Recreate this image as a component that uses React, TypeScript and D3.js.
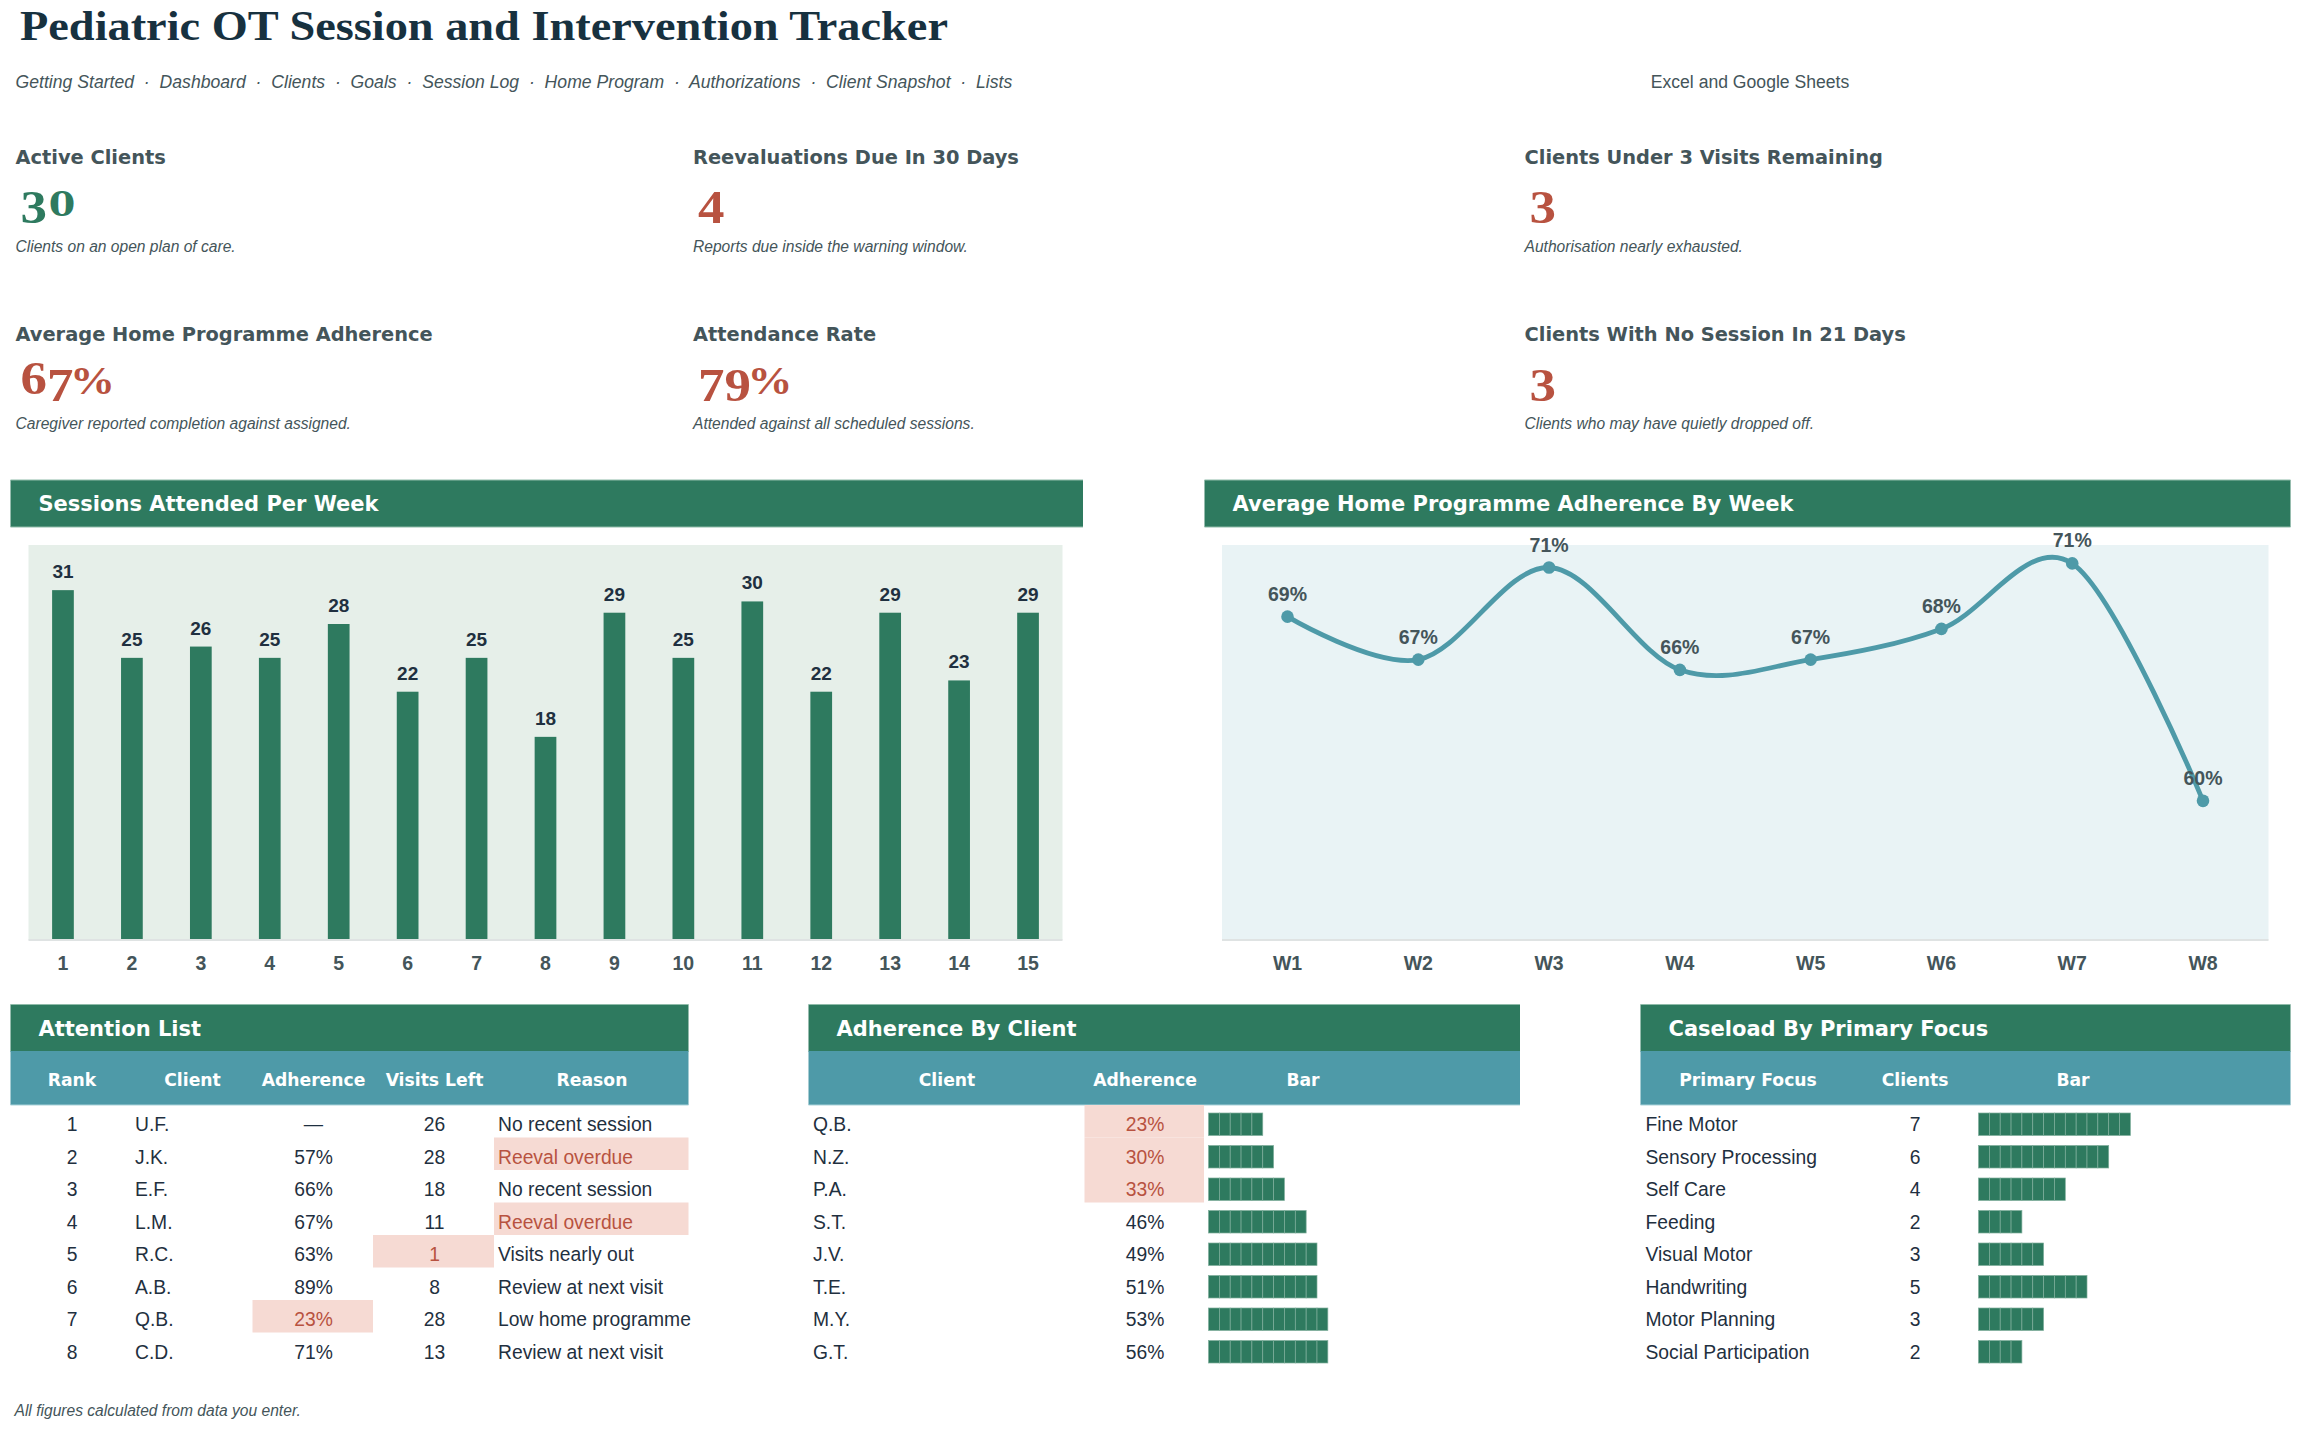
import React from "react";
import * as d3 from "d3";

// colours
const GREEN = "#2e7a5f";
const TEAL = "#4e9aa8";
const RED = "#b85240";
const PINK = "#f6dad3";
const INK = "#1f3040";
const SLATE = "#44555a";
const SANS = "'Liberation Sans', Arial, sans-serif";
const HEAD = "'DejaVu Sans', Verdana, sans-serif";
const SERIF = "'Liberation Serif', Georgia, serif";

// header
const navItems = ["Getting Started", "Dashboard", "Clients", "Goals", "Session Log", "Home Program", "Authorizations", "Client Snapshot", "Lists"];

// kpi cards
const kpiLabels = ["Active Clients", "Reevaluations Due In 30 Days", "Clients Under 3 Visits Remaining", "Average Home Programme Adherence", "Attendance Rate", "Clients With No Session In 21 Days"];
const kpiValues = ["30", "4", "3", "67%", "79%", "3"];
const kpiNotes = ["Clients on an open plan of care.", "Reports due inside the warning window.", "Authorisation nearly exhausted.", "Caregiver reported completion against assigned.", "Attended against all scheduled sessions.", "Clients who may have quietly dropped off."];
const kpiGood = [true, false, false, false, false, false];

// sessions chart
const sessionWeeks = ["1", "2", "3", "4", "5", "6", "7", "8", "9", "10", "11", "12", "13", "14", "15"];
const sessionCounts = [31, 25, 26, 25, 28, 22, 25, 18, 29, 25, 30, 22, 29, 23, 29];

// adherence line chart
const adherenceWeeks = ["W1", "W2", "W3", "W4", "W5", "W6", "W7", "W8"];
const adherenceByWeek = [68.8, 66.7, 71.2, 66.2, 66.7, 68.2, 71.4, 59.8];

// attention list
const attentionClients = ["U.F.", "J.K.", "E.F.", "L.M.", "R.C.", "A.B.", "Q.B.", "C.D."];
const attentionAdherence = [null, 57, 66, 67, 63, 89, 23, 71];
const attentionVisits = [26, 28, 18, 11, 1, 8, 28, 13];
const attentionReasons = ["No recent session", "Reeval overdue", "No recent session", "Reeval overdue", "Visits nearly out", "Review at next visit", "Low home programme", "Review at next visit"];

// adherence by client
const byClientNames = ["Q.B.", "N.Z.", "P.A.", "S.T.", "J.V.", "T.E.", "M.Y.", "G.T."];
const byClientAdherence = [23, 30, 33, 46, 49, 51, 53, 56];

// caseload
const focusNames = ["Fine Motor", "Sensory Processing", "Self Care", "Feeding", "Visual Motor", "Handwriting", "Motor Planning", "Social Participation"];
const focusClients = [7, 6, 4, 2, 3, 5, 3, 2];

const rowIdx = d3.range(8);
const rowY = d3.scaleBand<number>().domain(rowIdx).range([1105, 1365]);
const blockX = d3.scaleLinear().domain([0, 1]).range([0, 10.85]);

// georgia style old figures faked with small shifts, liberation has none
const OldStyle = ({ text, size }: { text: string; size: number }) => {
  let prev = 0;
  return (
    <>
      {text.split("").map((ch, i) => {
        const low = "34579".includes(ch);
        const small = "012".includes(ch);
        const shift = low ? size * 0.155 : 0;
        const dy = shift - prev;
        prev = shift;
        const dx = ch === "%" ? -3 : small && i ? 1.5 : 0;
        return (
          <tspan
            key={i}
            dy={dy}
            dx={dx}
            fontFamily={small ? "'DejaVu Serif', serif" : undefined}
            fontSize={small ? size * 0.72 : ch === "%" ? size * 0.85 : size}
          >
            {ch}
          </tspan>
        );
      })}
    </>
  );
};

const Band = ({ x0, x1, y0, y1, fill, edge }: { x0: number; x1: number; y0: number; y1: number; fill: string; edge: string }) => (
  <g>
    <rect x={x0} y={y0} width={x1 - x0} height={y1 - y0} fill={fill} />
    <line x1={x0} x2={x1} y1={y1} y2={y1} stroke={edge} strokeWidth={1} />
  </g>
);

const SectionTitle = ({ x0, x1, y, title }: { x0: number; x1: number; y: number; title: string }) => (
  <g>
    <Band x0={x0} x1={x1} y0={y} y1={y + 47} fill={GREEN} edge="#8fbba9" />
    <line x1={x0} x2={x1} y1={y} y2={y} stroke="#8fbba9" strokeWidth={1} />
    <text x={x0 + 28} y={y + 31} fill="#fff" fontFamily={HEAD} fontWeight="bold" fontSize={21}>
      {title}
    </text>
  </g>
);

const TableHead = ({ x0, x1, labels, centers }: { x0: number; x1: number; labels: string[]; centers: number[] }) => (
  <g>
    <Band x0={x0} x1={x1} y0={1051} y1={1105} fill={TEAL} edge="#a9d3da" />
    {labels.map((l, i) => (
      <text key={l} x={centers[i]} y={1085.5} textAnchor="middle" fill="#fff" fontFamily={HEAD} fontWeight="bold" fontSize={17.2}>
        {l}
      </text>
    ))}
  </g>
);

const Cell = ({ x, row, text, anchor = "middle", warn = false }: { x: number; row: number; text: string; anchor?: string; warn?: boolean }) => (
  <text x={x} y={rowY(row)! + 26} textAnchor={anchor as any} fill={warn ? RED : INK} fontFamily={SANS} fontSize={19.3}>
    {text}
  </text>
);

const Blocks = ({ x, row, count }: { x: number; row: number; count: number }) => (
  <g>
    {d3.range(count).map((i) => (
      <rect key={i} x={x + blockX(i)} y={rowY(row)! + 8} width={blockX(1)} height={22.5} fill={GREEN} stroke="#7fae9c" strokeWidth={0.7} />
    ))}
  </g>
);

const Kpis = () => {
  const xs = [15.5, 693, 1524.5];
  return (
    <g>
      {kpiLabels.map((label, i) => {
        const x = xs[i % 3];
        const dy = i < 3 ? 0 : 177.5;
        return (
          <g key={label}>
            <text x={x} y={163.5 + dy} fill={SLATE} fontFamily={HEAD} fontWeight="bold" fontSize={19.4}>
              {label}
            </text>
            <text transform={`translate(${x + 5},${216 + dy}) scale(1.15,1)`} fill={kpiGood[i] ? GREEN : RED} fontFamily={SERIF} fontWeight="bold" fontSize={46}>
              <OldStyle text={kpiValues[i]} size={46} />
            </text>
            <text x={x} y={251.5 + dy} fill={SLATE} fontFamily={SANS} fontStyle="italic" fontSize={15.6}>
              {kpiNotes[i]}
            </text>
          </g>
        );
      })}
    </g>
  );
};

const SessionsChart = () => {
  const x = d3.scaleBand<string>().domain(sessionWeeks).range([28.5, 1062.5]).paddingInner(0.685).paddingOuter(0.3425);
  const y = d3.scaleLinear().domain([0, 35]).range([940, 545]);
  return (
    <g>
      <rect x={28.5} y={545} width={1034} height={395} fill="#e6efe9" />
      {sessionCounts.map((v, i) => (
        <g key={i}>
          <rect x={x(sessionWeeks[i])} y={y(v)} width={x.bandwidth()} height={y(0) - y(v)} fill={GREEN} />
          <text x={x(sessionWeeks[i])! + x.bandwidth() / 2} y={y(v) - 12} textAnchor="middle" fill={INK} fontFamily={SANS} fontWeight="bold" fontSize={19}>
            {v}
          </text>
          <text x={x(sessionWeeks[i])! + x.bandwidth() / 2} y={969.5} textAnchor="middle" fill={SLATE} fontFamily={SANS} fontWeight="bold" fontSize={19.5}>
            {sessionWeeks[i]}
          </text>
        </g>
      ))}
      <line x1={28.5} x2={1062.5} y1={940} y2={940} stroke="#dfe3e3" strokeWidth={2} />
    </g>
  );
};

const AdherenceChart = () => {
  const x = d3.scalePoint<string>().domain(adherenceWeeks).range([1287.5, 2203]);
  const y = d3.scaleLinear().domain([53, 72.3]).range([940, 545]);
  const line = d3
    .line<number>()
    .x((_, i) => x(adherenceWeeks[i])!)
    .y((d) => y(d))
    .curve(d3.curveCatmullRom.alpha(0));
  return (
    <g>
      <rect x={1222} y={545} width={1046.5} height={395} fill="#e9f3f5" />
      <line x1={1222} x2={2268.5} y1={940} y2={940} stroke="#dfe3e3" strokeWidth={2} />
      <path d={line(adherenceByWeek)!} fill="none" stroke={TEAL} strokeWidth={4.8} />
      {adherenceByWeek.map((v, i) => (
        <g key={i}>
          <circle cx={x(adherenceWeeks[i])} cy={y(v)} r={6.3} fill={TEAL} />
          <text x={x(adherenceWeeks[i])} y={y(v) - 16} textAnchor="middle" fill={SLATE} fontFamily={SANS} fontWeight="bold" fontSize={19.5}>
            {Math.round(v)}%
          </text>
          <text x={x(adherenceWeeks[i])} y={969.5} textAnchor="middle" fill={SLATE} fontFamily={SANS} fontWeight="bold" fontSize={19.5}>
            {adherenceWeeks[i]}
          </text>
        </g>
      ))}
    </g>
  );
};

const AttentionTable = () => (
  <g>
    <SectionTitle x0={10.5} x1={688.5} y={1004.5} title="Attention List" />
    <TableHead x0={10.5} x1={688.5} labels={["Rank", "Client", "Adherence", "Visits Left", "Reason"]} centers={[72, 192.5, 313.5, 434.5, 592]} />
    {rowIdx.map((r) => {
      const adh = attentionAdherence[r];
      const lowAdh = adh !== null && adh < 40;
      const lowVisits = attentionVisits[r] < 3;
      const overdue = attentionReasons[r] === "Reeval overdue";
      return (
        <g key={r}>
          {lowAdh && <rect x={252.5} y={rowY(r)} width={120.5} height={rowY.bandwidth()} fill={PINK} />}
          {lowVisits && <rect x={373} y={rowY(r)} width={121} height={rowY.bandwidth()} fill={PINK} />}
          {overdue && <rect x={494} y={rowY(r)} width={194.5} height={rowY.bandwidth()} fill={PINK} />}
          <Cell x={72} row={r} text={String(r + 1)} />
          <Cell x={135} row={r} text={attentionClients[r]} anchor="start" />
          <Cell x={313.5} row={r} text={adh === null ? "—" : `${adh}%`} warn={lowAdh} />
          <Cell x={434.5} row={r} text={String(attentionVisits[r])} warn={lowVisits} />
          <Cell x={498} row={r} text={attentionReasons[r]} anchor="start" warn={overdue} />
        </g>
      );
    })}
  </g>
);

const ByClientTable = () => (
  <g>
    <SectionTitle x0={808.5} x1={1520} y={1004.5} title="Adherence By Client" />
    <TableHead x0={808.5} x1={1520} labels={["Client", "Adherence", "Bar"]} centers={[947, 1145, 1303]} />
    {rowIdx.map((r) => {
      const v = byClientAdherence[r];
      return (
        <g key={r}>
          {v < 40 && <rect x={1084.5} y={rowY(r)} width={119.5} height={rowY.bandwidth()} fill={PINK} />}
          <Cell x={813} row={r} text={byClientNames[r]} anchor="start" />
          <Cell x={1145} row={r} text={`${v}%`} warn={v < 40} />
          <Blocks x={1208.5} row={r} count={Math.round(v / 5)} />
        </g>
      );
    })}
  </g>
);

const CaseloadTable = () => (
  <g>
    <SectionTitle x0={1640.5} x1={2290.5} y={1004.5} title="Caseload By Primary Focus" />
    <TableHead x0={1640.5} x1={2290.5} labels={["Primary Focus", "Clients", "Bar"]} centers={[1748, 1915, 2073]} />
    {rowIdx.map((r) => (
      <g key={r}>
        <Cell x={1645.5} row={r} text={focusNames[r]} anchor="start" />
        <Cell x={1915} row={r} text={String(focusClients[r])} />
        <Blocks x={1978.5} row={r} count={focusClients[r] * 2} />
      </g>
    ))}
  </g>
);

export default function App() {
  return (
    <svg width={2301} height={1430} style={{ position: "absolute", left: 0, top: 0, background: "#fff" }}>
      <text x={20} y={40} fill="#17313f" fontFamily={SERIF} fontWeight="bold" fontSize={42} textLength={928} lengthAdjust="spacingAndGlyphs">
        Pediatric OT Session and Intervention Tracker
      </text>
      <text x={15.5} y={88} fill={SLATE} fontFamily={SANS} fontStyle="italic" fontSize={17.6} letterSpacing={0.015} xmlSpace="preserve">
        {navItems.join("  ·  ")}
      </text>
      <text x={1750} y={88} textAnchor="middle" fill={SLATE} fontFamily={SANS} fontSize={17.6}>
        Excel and Google Sheets
      </text>
      <Kpis />
      <SectionTitle x0={10.5} x1={1083} y={480} title="Sessions Attended Per Week" />
      <SessionsChart />
      <SectionTitle x0={1204.5} x1={2290.5} y={480} title="Average Home Programme Adherence By Week" />
      <AdherenceChart />
      <AttentionTable />
      <ByClientTable />
      <CaseloadTable />
      <text x={14.5} y={1416} fill={SLATE} fontFamily={SANS} fontStyle="italic" fontSize={15.6}>
        All figures calculated from data you enter.
      </text>
    </svg>
  );
}
